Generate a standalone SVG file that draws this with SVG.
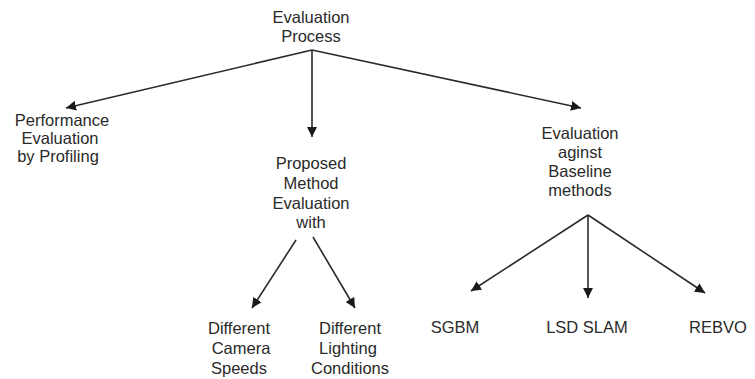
<svg xmlns="http://www.w3.org/2000/svg" width="755" height="379" viewBox="0 0 755 379">
<defs>
<marker id="ah" viewBox="0 0 10 10" refX="10" refY="5" markerWidth="10" markerHeight="10" markerUnits="userSpaceOnUse" orient="auto">
<path d="M0,0 L10,5 L0,10 z" fill="#1a1a1a"/>
</marker>
</defs>
<style>
text{font-family:"Liberation Sans",Arial,sans-serif;font-size:16.5px;fill:#2a2a2a;text-anchor:middle}
.c line{stroke:#2a2a2a;stroke-width:1.6;marker-end:url(#ah)}
</style>
<rect width="755" height="379" fill="#ffffff"/>
<g class="c" id="connectors">
<line x1="312" y1="50" x2="66" y2="108"/>
<line x1="312" y1="50" x2="312" y2="137"/>
<line x1="312" y1="50" x2="581" y2="108"/>
<line x1="296" y1="240" x2="252" y2="308"/>
<line x1="313" y1="237" x2="355" y2="308"/>
<line x1="588" y1="215" x2="471" y2="291"/>
<line x1="588" y1="215" x2="588" y2="298"/>
<line x1="588" y1="215" x2="705" y2="293"/>
</g>
<g id="root"><text x="311" y="23">Evaluation</text><text x="311" y="42">Process</text></g>
<g id="perf"><text x="62" y="126">Performance</text><text x="60" y="144">Evaluation</text><text x="58" y="162">by Profiling</text></g>
<g id="proposed"><text x="311" y="169">Proposed</text><text x="311" y="189">Method</text><text x="311" y="209">Evaluation</text><text x="311" y="228">with</text></g>
<g id="baseline"><text x="580" y="139">Evaluation</text><text x="580" y="158">aginst</text><text x="580" y="177">Baseline</text><text x="580" y="196">methods</text></g>
<g id="camera"><text x="239" y="334">Different</text><text x="241" y="354">Camera</text><text x="239" y="374">Speeds</text></g>
<g id="lighting"><text x="350" y="334">Different</text><text x="348" y="354">Lighting</text><text x="350" y="374">Conditions</text></g>
<g id="sgbm"><text x="455" y="333">SGBM</text></g>
<g id="lsd"><text x="587" y="333">LSD SLAM</text></g>
<g id="rebvo"><text x="718" y="333">REBVO</text></g>
</svg>
